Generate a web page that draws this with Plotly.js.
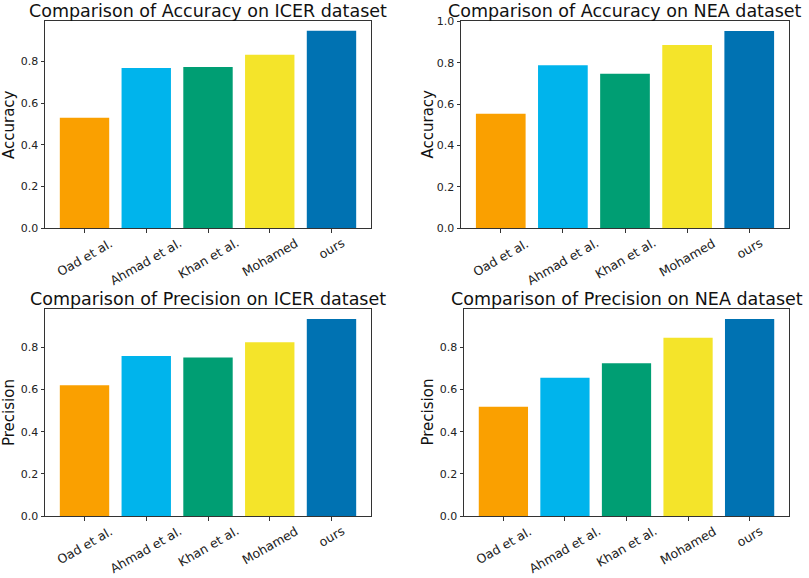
<!DOCTYPE html>
<html>
<head>
<meta charset="utf-8">
<script src="https://cdn.plot.ly/plotly-3.0.1.min.js"></script>
<style>
  html, body { margin: 0; padding: 0; background: #fff; }
  #chart { width: 809px; height: 578px; }
</style>
</head>
<body>
<div id="chart"></div>
<script>
const methods = ['Oad et al.', 'Ahmad et al.', 'Khan et al.', 'Mohamed', 'ours'];
const accIcer = [0.530, 0.768, 0.773, 0.832, 0.947];
const accNea = [0.553, 0.789, 0.747, 0.887, 0.954];
const precIcer = [0.620, 0.759, 0.752, 0.824, 0.935];
const precNea = [0.518, 0.656, 0.725, 0.846, 0.935];
const barColors = ['#FAA000', '#00B4EC', '#009E73', '#F4E42A', '#0072B2'];

const W = 809, H = 578;
const px = v => v / W;
const py = v => 1 - v / H;

// box of each panel in pixels: left, right, top, bottom
const panels = [
    {title: 'Comparison of Accuracy on ICER dataset', ylab: 'Accuracy', vals: accIcer,
     box: [45, 371, 21, 228], ymax: 0.994, labX: 8.5},
    {title: 'Comparison of Accuracy on NEA dataset', ylab: 'Accuracy', vals: accNea,
     box: [461, 789, 21, 228], ymax: 1.003, labX: 427},
    {title: 'Comparison of Precision on ICER dataset', ylab: 'Precision', vals: precIcer,
     box: [45, 371, 309, 516], ymax: 0.982, labX: 8.5},
    {title: 'Comparison of Precision on NEA dataset', ylab: 'Precision', vals: precNea,
     box: [464, 789, 309, 516], ymax: 0.982, labX: 427}
];

const font = 'DejaVu Sans, sans-serif';
const data = [];
const annotations = [];
const layout = {
    width: W, height: H,
    margin: {l: 0, r: 0, t: 0, b: 0},
    paper_bgcolor: '#fff',
    plot_bgcolor: '#fff',
    showlegend: false,
    font: {family: font, color: '#222'},
    annotations: annotations
};

panels.forEach((p, i) => {
    const n = i === 0 ? '' : String(i + 1);
    const [l, r, t, b] = p.box;
    data.push({
        type: 'bar',
        x: methods,
        y: p.vals,
        width: 0.8,
        marker: {color: barColors, line: {width: 0}},
        xaxis: 'x' + n,
        yaxis: 'y' + n,
        hoverinfo: 'x+y'
    });
    layout['xaxis' + n] = {
        domain: [px(l), px(r)],
        anchor: 'y' + n,
        type: 'category',
        range: [-0.64, 4.64],
        showgrid: false, zeroline: false,
        showline: true, mirror: true, linecolor: '#333', linewidth: 1,
        ticks: 'outside', ticklen: 3.5, tickcolor: '#333',
        showticklabels: false
    };
    layout['yaxis' + n] = {
        domain: [py(b), py(t)],
        anchor: 'x' + n,
        range: [0, p.ymax],
        tickvals: [0, 0.2, 0.4, 0.6, 0.8, 1.0],
        tickformat: '.1f',
        showgrid: false, zeroline: false,
        showline: true, mirror: true, linecolor: '#333', linewidth: 1,
        ticks: 'outside', ticklen: 3.5, tickcolor: '#333',
        tickfont: {size: 11, family: font, color: '#222'}
    };
    annotations.push({
        text: p.title, xref: 'paper', yref: 'paper',
        x: px((l + r) / 2), y: py(t - 21), xanchor: 'center', yanchor: 'top',
        showarrow: false, borderpad: 0,
        font: {size: 17.5, family: font, color: '#111'}
    });
    annotations.push({
        text: p.ylab, xref: 'paper', yref: 'paper', textangle: -90,
        x: px(p.labX), y: py((t + b) / 2), xanchor: 'center', yanchor: 'middle',
        showarrow: false, font: {size: 15, family: font, color: '#111'}
    });
    methods.forEach(m => {
        annotations.push({
            text: m, xref: 'x' + n, yref: 'paper', textangle: -30,
            x: m, y: py(b + 6), xanchor: 'center', yanchor: 'top',
            showarrow: false, borderpad: 0,
            font: {size: 12.5, family: font, color: '#222'}
        });
    });
});

Plotly.newPlot('chart', data, layout, {displayModeBar: false, staticPlot: true});
</script>
</body>
</html>
